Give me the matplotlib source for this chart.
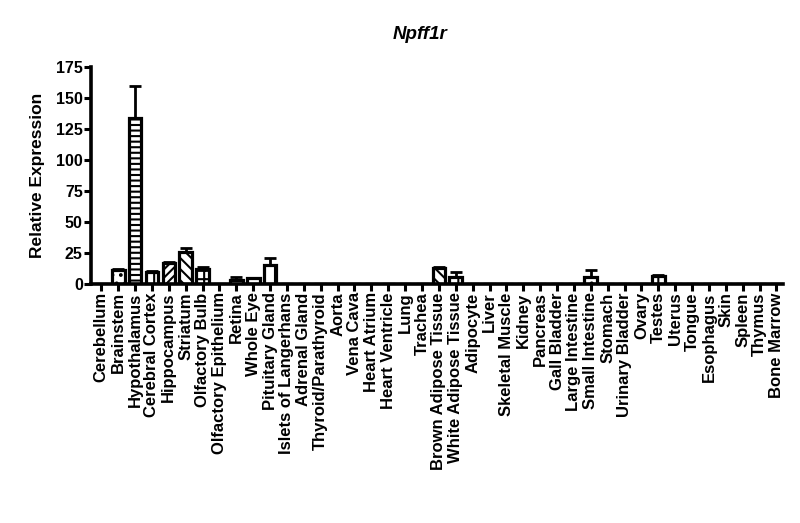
import matplotlib
matplotlib.use("Agg")
import matplotlib.pyplot as plt
import numpy as np

tissues = ["Cerebellum", "Brainstem", "Hypothalamus", "Cerebral Cortex", "Hippocampus",
           "Striatum", "Olfactory Bulb", "Olfactory Epithelium", "Retina", "Whole Eye",
           "Pituitary Gland", "Islets of Langerhans", "Adrenal Gland", "Thyroid/Parathyroid",
           "Aorta", "Vena Cava", "Heart Atrium", "Heart Ventricle", "Lung", "Trachea",
           "Brown Adipose Tissue", "White Adipose Tissue", "Adipocyte", "Liver",
           "Skeletal Muscle", "Kidney", "Pancreas", "Gall Bladder", "Large Intestine",
           "Small Intestine", "Stomach", "Urinary Bladder", "Ovary", "Testes", "Uterus",
           "Tongue", "Esophagus", "Skin", "Spleen", "Thymus", "Bone Marrow"]

expression = [0.3, 11.3, 134, 10, 17, 25.5, 12, 0.3, 3.5, 4.5,
              15.5, 0.3, 0.3, 0.3, 0.3, 0.3, 0.3, 0.3, 0.3, 0.3,
              12.5, 6, 0.3, 0.3, 0.3, 0.3, 0.3, 0.3, 0.3, 6,
              0.3, 0.3, 0.3, 6.5, 0.3, 0.3, 0.3, 0.3, 0.3, 0.3, 0.3]

sem = [0, 1, 26, 0.5, 0.5, 3.5, 1.5, 0, 2.5, 0.5,
       5.5, 0, 0, 0, 0, 0, 0, 0, 0, 0,
       0.8, 4, 0, 0, 0, 0, 0, 0, 0, 5,
       0, 0, 0, 1, 0, 0, 0, 0, 0, 0, 0]

hatches = ["", "..", "---", "||", "////", "\\\\\\", "++", "", "-", "",
           "|", "", "", "", "", "", "", "", "", "",
           "\\\\\\", "+", "", "", "", "", "", "", "", "..",
           "", "", "", "|", "", "", "", "", "", "", ""]

plt.rcParams['font.family'] = ['Liberation Sans', 'DejaVu Sans']
plt.rcParams['font.weight'] = 'bold'
plt.rcParams['hatch.linewidth'] = 1.5

fig = plt.figure(figsize=(8, 5.23), dpi=100)
ax = fig.add_axes([0.114, 0.457, 0.865, 0.415])

x = np.arange(len(tissues))
bars = ax.bar(x, expression, width=0.75, color='white', edgecolor='black', linewidth=2.3,
              zorder=2)
for b, h in zip(bars, hatches):
    b.set_hatch(h)

lower = np.zeros(len(sem))
ax.errorbar(x, expression, yerr=[lower, sem], fmt='none', ecolor='black',
            elinewidth=2, capsize=4, capthick=2, zorder=1)

ax.set_xlim(-0.6, 40.4)
ax.set_ylim(0, 175)
ax.set_yticks([0, 25, 50, 75, 100, 125, 150, 175])
ax.set_xticks(x)
ax.set_xticklabels(tissues, rotation=90, fontsize=12, fontweight='bold')
for lab in ax.get_yticklabels():
    lab.set_fontsize(11.5)
    lab.set_fontweight('bold')

for s in ['top', 'right']:
    ax.spines[s].set_visible(False)
for s in ['left', 'bottom']:
    ax.spines[s].set_linewidth(2.6)
ax.tick_params(axis='both', length=5, width=2.2, pad=1)

ax.set_ylabel('Relative Expression', fontsize=12.5, fontweight='bold', labelpad=8)
ax.set_title('Npff1r', fontsize=13.5, fontweight='bold', fontstyle='italic',
             x=0.475, pad=20)

plt.savefig("out.png")
